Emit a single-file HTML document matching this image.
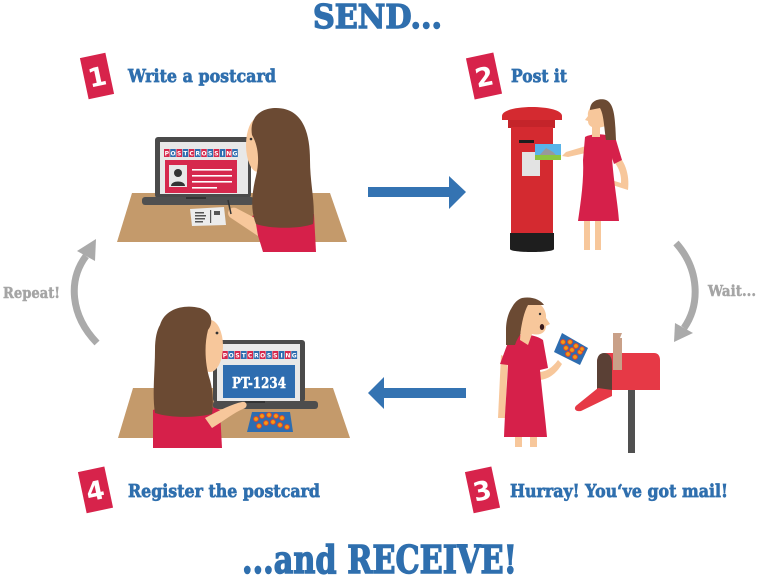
<!DOCTYPE html>
<html><head><meta charset="utf-8"><style>
html,body{margin:0;padding:0;background:#fff;}
svg{display:block;}
.h{font-family:"DejaVu Serif","Liberation Serif",serif;font-weight:bold;fill:#2f6fae;stroke:#2f6fae;stroke-width:0.7;}
.t{stroke-width:1.4;}
.g{font-family:"DejaVu Serif","Liberation Serif",serif;font-weight:bold;fill:#a5a5a5;stroke:#a5a5a5;stroke-width:0.5;}
.n{font-family:"DejaVu Sans","Liberation Sans",sans-serif;font-weight:bold;fill:#fff;}
.b{font-family:"DejaVu Sans","Liberation Sans",sans-serif;font-weight:bold;fill:#fff;font-size:6px;}
</style></head><body>
<svg width="760" height="578" viewBox="0 0 760 578" xmlns="http://www.w3.org/2000/svg">
<!-- Titles -->
<text class="h t" x="313" y="28" font-size="33" textLength="129" lengthAdjust="spacingAndGlyphs">SEND...</text>
<text class="h t" x="242" y="573" font-size="38" textLength="275" lengthAdjust="spacingAndGlyphs">...and RECEIVE!</text>

<!-- Badges -->
<g transform="translate(97,76) rotate(-12)"><rect x="-13" y="-21" width="26" height="42" fill="#d7234b"/><text class="n" x="0" y="10" font-size="26" text-anchor="middle">1</text></g>
<g transform="translate(484,76) rotate(-12)"><rect x="-14" y="-21" width="28" height="42" fill="#d7234b"/><text class="n" x="0" y="10" font-size="26" text-anchor="middle">2</text></g>
<g transform="translate(95,490) rotate(-12)"><rect x="-13" y="-21" width="27" height="42" fill="#d7234b"/><text class="n" x="0" y="10" font-size="26" text-anchor="middle">4</text></g>
<g transform="translate(482,490) rotate(-12)"><rect x="-13" y="-21" width="27" height="42" fill="#d7234b"/><text class="n" x="0" y="10" font-size="26" text-anchor="middle">3</text></g>

<!-- Labels -->
<text class="h" x="128" y="82" font-size="18" textLength="148" lengthAdjust="spacingAndGlyphs">Write a postcard</text>
<text class="h" x="511" y="82" font-size="18" textLength="56" lengthAdjust="spacingAndGlyphs">Post it</text>
<text class="h" x="128" y="497" font-size="18" textLength="192" lengthAdjust="spacingAndGlyphs">Register the postcard</text>
<text class="h" x="510" y="497" font-size="18" textLength="218" lengthAdjust="spacingAndGlyphs">Hurray! You‘ve got mail!</text>
<text class="g" x="3" y="298" font-size="15" textLength="57" lengthAdjust="spacingAndGlyphs">Repeat!</text>
<text class="g" x="708" y="296" font-size="15" textLength="48" lengthAdjust="spacingAndGlyphs">Wait...</text>

<!-- Blue arrows -->
<rect x="368" y="187" width="82" height="10" fill="#3473b2"/>
<polygon points="449,176 466,192 449,209" fill="#3473b2"/>
<rect x="383" y="388" width="83" height="10" fill="#3473b2"/>
<polygon points="368,393 384,377 384,409" fill="#3473b2"/>

<!-- Gray curved arrows -->
<path d="M97,343 C70,315 68,280 86,256" fill="none" stroke="#aaa" stroke-width="7"/>
<polygon points="96,239 77,251 95,261" fill="#aaa"/>
<path d="M676,243 C700,270 700,305 684,328" fill="none" stroke="#aaa" stroke-width="7"/>
<polygon points="674,342 675,323 693,333" fill="#aaa"/>

<!-- Scene 1 -->
<polygon points="132,193 330,193 347,242 117,242" fill="#c49a6b"/>
<rect x="155" y="137" width="96" height="61" rx="3" fill="#4a4a4a"/>
<rect x="160" y="142" width="88" height="52" fill="#e8e8e8"/>
<g>
<rect x="164" y="149" width="5.6" height="8" fill="#d6284d"/><text class="b" x="166.8" y="155.5" text-anchor="middle">P</text>
<rect x="170.2" y="149" width="5.6" height="8" fill="#2e6db0"/><text class="b" x="173" y="155.5" text-anchor="middle">O</text>
<rect x="176.4" y="149" width="5.6" height="8" fill="#d6284d"/><text class="b" x="179.2" y="155.5" text-anchor="middle">S</text>
<rect x="182.6" y="149" width="5.6" height="8" fill="#2e6db0"/><text class="b" x="185.4" y="155.5" text-anchor="middle">T</text>
<rect x="188.8" y="149" width="5.6" height="8" fill="#d6284d"/><text class="b" x="191.6" y="155.5" text-anchor="middle">C</text>
<rect x="195" y="149" width="5.6" height="8" fill="#2e6db0"/><text class="b" x="197.8" y="155.5" text-anchor="middle">R</text>
<rect x="201.2" y="149" width="5.6" height="8" fill="#d6284d"/><text class="b" x="204" y="155.5" text-anchor="middle">O</text>
<rect x="207.4" y="149" width="5.6" height="8" fill="#2e6db0"/><text class="b" x="210.2" y="155.5" text-anchor="middle">S</text>
<rect x="213.6" y="149" width="5.6" height="8" fill="#d6284d"/><text class="b" x="216.4" y="155.5" text-anchor="middle">S</text>
<rect x="219.8" y="149" width="5.6" height="8" fill="#2e6db0"/><text class="b" x="222.6" y="155.5" text-anchor="middle">I</text>
<rect x="226" y="149" width="5.6" height="8" fill="#d6284d"/><text class="b" x="228.8" y="155.5" text-anchor="middle">N</text>
<rect x="232.2" y="149" width="5.6" height="8" fill="#2e6db0"/><text class="b" x="235" y="155.5" text-anchor="middle">G</text>
</g>
<rect x="165" y="160" width="72" height="33" fill="#d6284d"/>
<rect x="169" y="165" width="18" height="22" fill="#e8e8e8"/>
<circle cx="178" cy="173" r="4" fill="#333"/>
<path d="M171,186 C171,180 185,180 185,186 Z" fill="#333"/>
<rect x="192" y="169" width="40" height="1.6" fill="#fff"/>
<rect x="192" y="175" width="40" height="1.6" fill="#fff"/>
<rect x="192" y="181" width="40" height="1.6" fill="#fff"/>
<rect x="192" y="187" width="25" height="1.6" fill="#fff"/>
<rect x="142" y="197" width="112" height="8" rx="3" fill="#505050"/>
<rect x="186" y="197" width="20" height="2" fill="#333"/>
<polygon points="190,209 224,207 226,225 192,226" fill="#ececec"/>
<rect x="195" y="212" width="9" height="1.5" fill="#555"/>
<rect x="195" y="215" width="11" height="1.5" fill="#555"/>
<rect x="195" y="218" width="10" height="1.5" fill="#555"/>
<rect x="195" y="221" width="8" height="1.5" fill="#555"/>
<rect x="210" y="210" width="1.2" height="13" fill="#555"/>
<rect x="214" y="211" width="6" height="4" fill="#555"/>
<path d="M252,216 C262,212 300,212 314,214 L316,252 L263,252 Z" fill="#d6204a"/>
<path d="M255,218 L236,208 C229,206 225,214 231,218 L258,236 Z" fill="#f7c79b"/>
<line x1="228" y1="200" x2="231" y2="214" stroke="#333" stroke-width="1.5"/>
<ellipse cx="258" cy="145" rx="12" ry="27" fill="#f7c79b"/>
<circle cx="251" cy="139" r="1.3" fill="#333"/>
<path d="M252,135 C249,116 262,108 276,108 C300,108 310,128 310,160 C310,185 316,205 313,224 C300,229 270,229 256,224 C250,210 252,192 256,176 C260,160 258,145 252,135 Z" fill="#6b4a33"/>

<!-- Scene 2 -->
<path d="M502,116 C502,104 562,104 562,116 L562,120 L502,120 Z" fill="#d42a30"/>
<rect x="508" y="120" width="47" height="8" fill="#c4242a"/>
<rect x="511" y="127" width="42" height="107" fill="#d42a30"/>
<path d="M510,233 L554,233 L554,249 C554,253 510,253 510,249 Z" fill="#1e1e1e"/>
<rect x="519" y="140" width="15" height="3" fill="#1e1e1e"/>
<rect x="522" y="152" width="18" height="24" fill="#e3e3e3"/>
<rect x="535" y="144" width="26" height="16" fill="#5ab4e8"/>
<polygon points="537,158 546,148 553,152 559,158" fill="#999"/>
<rect x="535" y="155" width="26" height="5" fill="#8cc63f"/>
<path d="M586,146 L566,152 L562,156 L568,157 L590,152 Z" fill="#f7c79b"/>
<path d="M612,150 C625,158 630,175 628,190 L606,183 L608,179 L621,183 C622,172 616,162 608,156 Z" fill="#f7c79b"/>
<rect x="584" y="218" width="6" height="32" fill="#f7c79b"/>
<rect x="595" y="218" width="6" height="32" fill="#f7c79b"/>
<path d="M585,137 C592,133 610,133 616,140 L622,160 L614,164 L612,158 C614,185 618,205 619,221 L578,221 C581,200 584,180 583,160 Z" fill="#d6204a"/>
<rect x="592" y="123" width="8" height="14" fill="#f7c79b"/>
<path d="M600,103 C592,103 587,110 588,116 L585,120 L588,121 C588,126 592,128 598,128 L606,126 Z" fill="#f7c79b"/>
<path d="M590,110 C590,100 600,98 606,100 C615,104 615,120 616,140 L606,140 C604,128 604,115 600,108 Z" fill="#6b4a33"/>

<!-- Scene 3 -->
<rect x="515" y="432" width="7" height="15" fill="#f7c79b"/>
<rect x="530" y="432" width="7" height="15" fill="#f7c79b"/>
<path d="M501,355 L498,418 L505,418 L508,358 Z" fill="#f7c79b"/>
<path d="M538,372 C546,372 552,368 558,360 L562,364 C556,374 548,380 538,380 Z" fill="#f7c79b"/>
<path d="M510,337 C520,333 535,334 543,340 L548,368 L540,370 C542,392 545,415 547,437 L504,437 C505,410 507,385 508,365 L500,364 Z" fill="#d6204a"/>
<path d="M523,300 C512,302 506,315 506,330 L506,345 L515,345 C518,335 526,328 530,320 Z" fill="#6b4a33"/>
<path d="M528,300 C540,300 547,310 546,318 L550,324 L546,326 C546,332 541,336 532,334 L528,345 L520,340 L522,310 Z" fill="#f7c79b"/>
<ellipse cx="542" cy="327" rx="2.2" ry="3" fill="#3a1a1a"/>
<circle cx="540" cy="314" r="1.2" fill="#333"/>
<path d="M522,298 C532,296 541,300 544,305 L528,305 C524,312 522,322 520,335 L510,338 C506,320 510,302 522,298 Z" fill="#6b4a33"/>
<polygon points="562,333 588,348 580,365 554,352" fill="#2e6db0"/>
<g fill="#f39c12" stroke="#e0432f" stroke-width="1">
<circle cx="563" cy="342" r="2.4"/><circle cx="570" cy="342" r="2.4"/><circle cx="576" cy="346" r="2.4"/>
<circle cx="566" cy="348" r="2.4"/><circle cx="572" cy="350" r="2.4"/><circle cx="580" cy="352" r="2.4"/>
<circle cx="568" cy="354" r="2.4"/><circle cx="575" cy="357" r="2.4"/><circle cx="582" cy="349" r="2.2"/>
</g>
<rect x="628" y="388" width="7" height="65" fill="#505050"/>
<path d="M597,362 C597,355 602,353 608,353 L654,353 C658,353 660,356 660,360 L660,390 L597,390 Z" fill="#e63946"/>
<path d="M597,362 C597,356 600,353 604,353 C609,353 612,357 612,363 L612,390 L597,390 Z" fill="#5a4035"/>
<path d="M613,333 L622,333 L620,338 L622,338 L622,370 L613,370 Z" fill="#c9a088"/>
<path d="M598,388 L612,390 L612,396 L581,411 C575,412 573,408 577,405 Z" fill="#e63946"/>

<!-- Scene 4 -->
<polygon points="133,388 333,388 350,438 118,438" fill="#c49a6b"/>
<rect x="213" y="340" width="92" height="62" rx="3" fill="#4a4a4a"/>
<rect x="217" y="344" width="83" height="57" fill="#e8e8e8"/>
<g>
<rect x="222" y="351" width="5.8" height="8" fill="#d6284d"/><text class="b" x="224.9" y="357.5" text-anchor="middle">P</text>
<rect x="228.3" y="351" width="5.8" height="8" fill="#2e6db0"/><text class="b" x="231.2" y="357.5" text-anchor="middle">O</text>
<rect x="234.6" y="351" width="5.8" height="8" fill="#d6284d"/><text class="b" x="237.5" y="357.5" text-anchor="middle">S</text>
<rect x="240.9" y="351" width="5.8" height="8" fill="#2e6db0"/><text class="b" x="243.8" y="357.5" text-anchor="middle">T</text>
<rect x="247.2" y="351" width="5.8" height="8" fill="#d6284d"/><text class="b" x="250.1" y="357.5" text-anchor="middle">C</text>
<rect x="253.5" y="351" width="5.8" height="8" fill="#2e6db0"/><text class="b" x="256.4" y="357.5" text-anchor="middle">R</text>
<rect x="259.8" y="351" width="5.8" height="8" fill="#d6284d"/><text class="b" x="262.7" y="357.5" text-anchor="middle">O</text>
<rect x="266.1" y="351" width="5.8" height="8" fill="#2e6db0"/><text class="b" x="269" y="357.5" text-anchor="middle">S</text>
<rect x="272.4" y="351" width="5.8" height="8" fill="#d6284d"/><text class="b" x="275.3" y="357.5" text-anchor="middle">S</text>
<rect x="278.7" y="351" width="5.8" height="8" fill="#2e6db0"/><text class="b" x="281.6" y="357.5" text-anchor="middle">I</text>
<rect x="285" y="351" width="5.8" height="8" fill="#d6284d"/><text class="b" x="287.9" y="357.5" text-anchor="middle">N</text>
<rect x="291.3" y="351" width="5.8" height="8" fill="#2e6db0"/><text class="b" x="294.2" y="357.5" text-anchor="middle">G</text>
</g>
<rect x="223" y="365" width="72" height="33" fill="#2e6db0"/>
<text x="259" y="388" font-family="DejaVu Serif, Liberation Serif, serif" font-weight="bold" font-size="15" fill="#fff" stroke="#fff" stroke-width="0.4" text-anchor="middle" textLength="54" lengthAdjust="spacingAndGlyphs">PT-1234</text>
<rect x="213" y="401" width="105" height="8" rx="3" fill="#4d4d4d"/>
<rect x="245" y="401" width="20" height="2" fill="#333"/>
<polygon points="252,412 290,412 293,432 247,432" fill="#2e6db0"/>
<g fill="#f39c12" stroke="#e0432f" stroke-width="1">
<circle cx="256" cy="419" r="2.4"/><circle cx="262" cy="416" r="2.4"/><circle cx="269" cy="415" r="2.4"/>
<circle cx="276" cy="416" r="2.4"/><circle cx="282" cy="418" r="2.4"/><circle cx="259" cy="426" r="2.4"/>
<circle cx="266" cy="423" r="2.4"/><circle cx="273" cy="422" r="2.4"/><circle cx="280" cy="425" r="2.4"/>
<circle cx="287" cy="427" r="2.4"/>
</g>
<path d="M153,410 C165,404 205,402 220,410 L222,448 L153,448 Z" fill="#d6204a"/>
<path d="M205,418 C220,410 232,404 242,402 C248,401 248,408 243,409 C235,412 225,420 212,428 Z" fill="#f7c79b"/>
<ellipse cx="210" cy="346" rx="13" ry="26" fill="#f7c79b"/>
<circle cx="217" cy="333" r="1.4" fill="#333"/>
<path d="M160,325 C165,308 185,304 200,308 C212,312 214,322 208,330 C204,345 205,365 210,380 C214,395 213,408 212,414 C195,418 170,418 155,413 C152,395 155,370 155,350 C155,338 157,330 160,325 Z" fill="#6b4a33"/>
</svg>
</body></html>
